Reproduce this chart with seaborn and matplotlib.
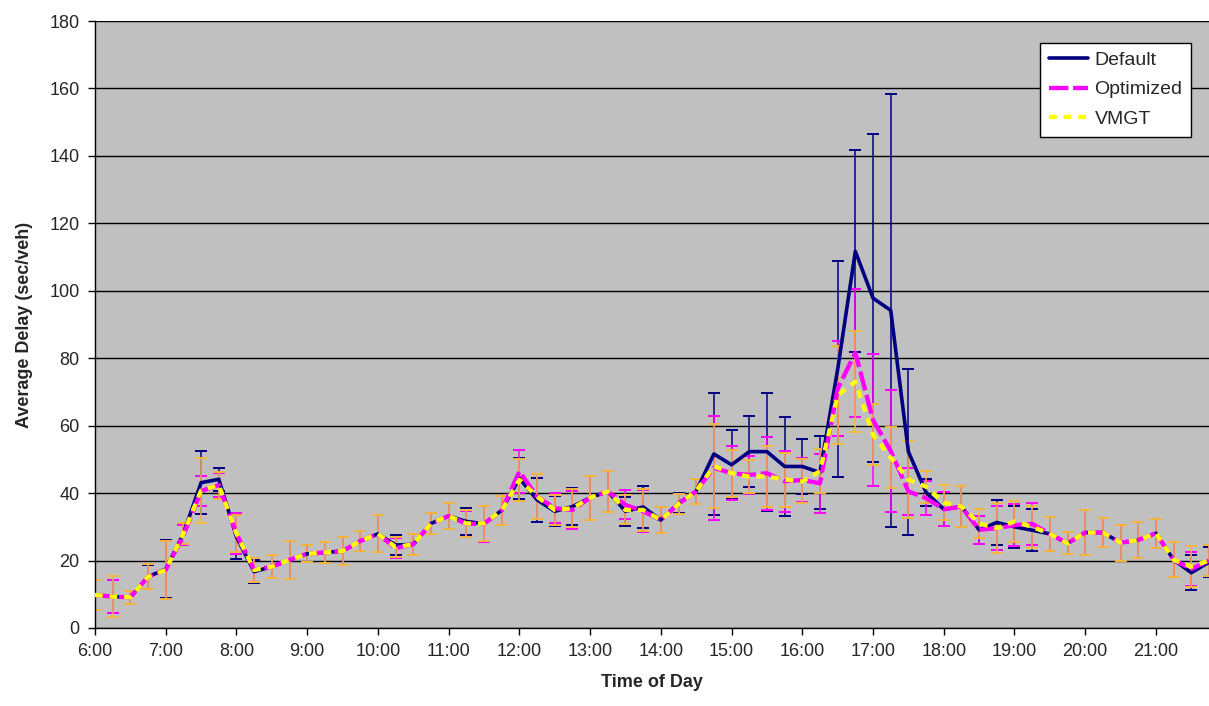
import pandas as pd
import numpy as np
import matplotlib
matplotlib.use("Agg")
import matplotlib.pyplot as plt
import seaborn as sns

# 15-minute intervals from 6:00 to 21:45
times = [f"{6 + i // 4}:{(i % 4) * 15:02d}" for i in range(64)]

default_delay = [9.8, 9.3, 9.1, 15.2, 17.5, 28.0, 43.1, 44.1, 27.0, 16.7,
                 18.2, 20.2, 22.0, 22.4, 22.8, 25.8, 27.9, 24.6, 24.8, 31.0,
                 33.2, 31.6, 30.9, 34.9, 44.4, 38.0, 34.6, 36.0, 38.6, 40.5,
                 34.6, 35.9, 32.0, 37.0, 40.6, 51.6, 48.4, 52.3, 52.3, 47.9,
                 47.9, 46.1, 76.7, 111.7, 97.8, 94.2, 52.3, 40.2, 35.2, 36.0,
                 29.1, 31.3, 30.0, 29.0, 27.9, 25.1, 28.3, 28.3, 25.3, 26.1,
                 28.1, 20.2, 16.4, 19.5]
optimized_delay = [9.8, 9.3, 9.1, 15.2, 17.2, 27.5, 40.6, 42.4, 28.0, 17.2,
                   18.2, 20.2, 22.0, 22.4, 22.8, 25.8, 27.9, 23.7, 24.8, 31.0,
                   33.2, 30.9, 30.9, 34.9, 46.4, 39.0, 35.5, 35.0, 38.6, 40.5,
                   36.5, 34.6, 32.0, 36.8, 40.6, 47.5, 45.9, 45.4, 45.9, 43.5,
                   43.9, 42.9, 71.0, 81.6, 61.7, 52.5, 40.5, 38.5, 35.2, 36.0,
                   29.1, 29.6, 30.5, 30.9, 27.9, 25.1, 28.3, 28.3, 25.3, 26.1,
                   28.1, 20.2, 17.5, 20.0]
vmgt_delay = [9.8, 9.3, 9.1, 15.2, 17.2, 28.0, 40.8, 42.4, 28.0, 17.2,
              18.2, 20.2, 22.0, 22.4, 22.8, 25.8, 27.9, 24.0, 24.8, 31.0,
              33.2, 31.0, 31.0, 34.9, 43.9, 39.0, 35.0, 35.5, 38.6, 40.5,
              35.0, 35.0, 32.0, 36.8, 40.6, 48.0, 45.9, 44.9, 45.0, 44.0,
              43.5, 46.5, 69.0, 73.0, 57.3, 50.5, 44.0, 41.9, 37.2, 36.0,
              31.0, 29.6, 31.6, 30.0, 27.9, 25.1, 28.3, 28.3, 25.3, 26.1,
              28.1, 20.2, 18.2, 20.0]

default_err = [4.5, 5.0, 2.0, 3.5, 8.5, 3.0, 9.4, 3.4, 6.6, 3.5,
               3.4, 5.6, 2.5, 3.0, 4.2, 3.0, 5.5, 3.0, 3.2, 3.1,
               3.8, 3.9, 5.3, 4.3, 6.0, 6.6, 4.4, 5.6, 6.6, 6.0,
               4.3, 6.2, 3.9, 2.9, 3.7, 18.0, 10.2, 10.5, 17.5, 14.7,
               8.2, 10.8, 32.0, 30.0, 48.7, 64.3, 24.6, 4.0, 5.0, 6.0,
               4.2, 6.6, 6.2, 6.2, 5.1, 3.3, 6.8, 4.3, 5.3, 5.2,
               4.3, 5.2, 5.1, 4.5]
optimized_err = [4.5, 5.0, 2.0, 3.7, 8.5, 3.0, 4.5, 3.5, 6.0, 3.5,
                 3.4, 5.6, 2.5, 3.0, 4.2, 3.0, 5.5, 3.0, 3.2, 3.1,
                 3.8, 3.9, 5.3, 4.3, 6.4, 6.6, 4.4, 5.6, 6.6, 6.0,
                 4.3, 6.2, 3.9, 2.9, 3.7, 15.5, 8.0, 5.6, 10.8, 9.0,
                 6.5, 8.7, 14.0, 19.0, 19.5, 18.0, 7.0, 5.0, 5.0, 6.0,
                 4.2, 6.6, 6.2, 6.2, 5.1, 3.3, 6.8, 4.3, 5.3, 5.2,
                 4.3, 5.2, 5.0, 4.5]
vmgt_err = [4.5, 6.0, 2.0, 3.7, 8.7, 3.0, 9.7, 4.0, 5.5, 3.6,
            3.4, 5.6, 2.5, 3.0, 4.2, 3.0, 5.5, 3.0, 3.2, 3.1,
            3.8, 3.9, 5.3, 4.3, 6.2, 6.6, 4.4, 5.6, 6.6, 6.0,
            4.3, 6.2, 3.9, 2.9, 3.7, 12.5, 7.0, 5.0, 9.0, 8.0,
            6.5, 6.5, 14.5, 15.0, 9.0, 9.0, 11.5, 4.7, 5.3, 6.0,
            4.2, 7.5, 6.2, 6.2, 5.1, 3.3, 6.8, 4.3, 5.3, 5.2,
            4.3, 5.2, 6.0, 4.5]

scenarios = ["Default", "Optimized", "VMGT"]
colors = {"Default": "#000080", "Optimized": "#FF00FF", "VMGT": "#FFFF00"}
bar_colors = {"Default": "#000080", "Optimized": "#FF00FF", "VMGT": "#F2B83C"}
cap_colors = {"Default": "#000080", "Optimized": "#FF00FF", "VMGT": "#FFEE00"}

idx = np.arange(len(times))
df = pd.concat([
    pd.DataFrame({"idx": idx, "delay": default_delay, "err": default_err, "scenario": "Default"}),
    pd.DataFrame({"idx": idx, "delay": optimized_delay, "err": optimized_err, "scenario": "Optimized"}),
    pd.DataFrame({"idx": idx, "delay": vmgt_delay, "err": vmgt_err, "scenario": "VMGT"}),
])

sns.set_style("white")
plt.rcParams["font.family"] = ["Liberation Sans", "DejaVu Sans"]

fig = plt.figure(figsize=(12.09, 7.06), dpi=100)
ax = fig.add_axes([95 / 1209, 1 - 628 / 706, 1 - 95 / 1209, (628 - 21) / 706])
ax.set_facecolor("#C0C0C0")

# error bars first, lines on top
for s in scenarios:
    d = df[df["scenario"] == s]
    _, caps, bars = ax.errorbar(d["idx"], d["delay"], yerr=d["err"], fmt="none",
                                ecolor=bar_colors[s], elinewidth=1.1, capsize=4,
                                capthick=1.4, zorder=2)
    for c in caps:
        c.set_color(cap_colors[s])

sns.lineplot(data=df, x="idx", y="delay", hue="scenario", style="scenario",
             palette=colors, dashes={"Default": "", "Optimized": (4.5, 1.1), "VMGT": (1.8, 1.6)},
             linewidth=3.1, ax=ax, zorder=3, errorbar=None)
for line in ax.get_lines():
    if line.get_color() == "#000080":
        line.set_linewidth(2.6)

ax.set_xlim(0, 63)
ax.set_ylim(0, 180)
ax.set_yticks(range(0, 181, 20))
ax.set_xticks(range(0, 61, 4))
ax.set_xticklabels(times[0:61:4])
ax.tick_params(axis="both", direction="out", length=5, width=1, color="black",
               labelsize=13, pad=6, left=True, bottom=True)
ax.yaxis.grid(True, color="black", linewidth=1)
ax.xaxis.grid(False)
ax.set_axisbelow(True)
for side in ["top", "right"]:
    ax.spines[side].set_visible(False)
for side in ["left", "bottom"]:
    ax.spines[side].set_color("black")
    ax.spines[side].set_linewidth(1)

ax.set_xlabel("Time of Day", fontsize=13, fontweight="bold", labelpad=10)
ax.set_ylabel("Average Delay (sec/veh)", fontsize=13, fontweight="bold", labelpad=12)

leg = ax.legend(loc="upper right", bbox_to_anchor=(0.984, 0.964), borderaxespad=0,
                fontsize=14, frameon=True, fancybox=False, framealpha=1,
                edgecolor="black", handlelength=2.0, handletextpad=0.35,
                labelspacing=0.6, borderpad=0.45, title=None)
leg.get_frame().set_linewidth(1)

plt.savefig("out.png", dpi=100)
